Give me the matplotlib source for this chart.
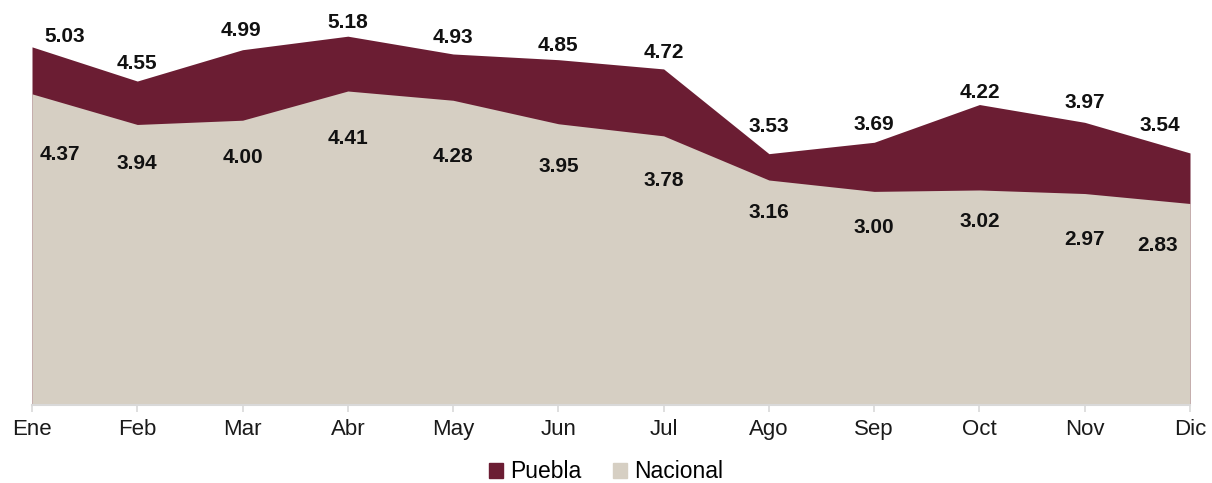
import numpy as np
import matplotlib.pyplot as plt
from matplotlib.patches import Patch

plt.rcParams['font.family'] = ['Liberation Sans', 'DejaVu Sans']

months = ['Ene', 'Feb', 'Mar', 'Abr', 'May', 'Jun', 'Jul', 'Ago', 'Sep', 'Oct', 'Nov', 'Dic']
puebla = [5.03, 4.55, 4.99, 5.18, 4.93, 4.85, 4.72, 3.53, 3.69, 4.22, 3.97, 3.54]
nacional = [4.37, 3.94, 4.00, 4.41, 4.28, 3.95, 3.78, 3.16, 3.00, 3.02, 2.97, 2.83]

# label offsets in pixels (dx, dy) relative to each point
off_pue = [(33, 10), (0, 18), (-2, 19), (0, 14), (0, 16), (0, 14), (0, 16),
           (0, 27), (0, 18), (0, 12), (0, 20), (-30, 27)]
off_nac = [(28, -61), (0, -39), (0, -37), (0, -47), (0, -56), (0, -43), (0, -45),
           (0, -32), (0, -36), (0, -32), (0, -46), (-32, -42)]

c_pue = '#6B1D33'
c_nac = '#D6CFC3'

fig = plt.figure(figsize=(12.12, 4.83), dpi=100)
ax = fig.add_axes([32/1212, 1 - 405/483, (1190-32)/1212, 391.6/483])

x = np.arange(len(months))
ax.fill_between(x, 0, puebla, color=c_pue, lw=0)
ax.fill_between(x, 0, nacional, color=c_nac, lw=0)

for i in range(len(x)):
    ax.annotate(f'{puebla[i]:.2f}', (x[i], puebla[i]), xytext=(off_pue[i][0]*0.72, off_pue[i][1]*0.72),
                textcoords='offset points', ha='center', va='center',
                fontsize=15, fontweight='bold', color='#111111')
    ax.annotate(f'{nacional[i]:.2f}', (x[i], nacional[i]), xytext=(off_nac[i][0]*0.72, off_nac[i][1]*0.72),
                textcoords='offset points', ha='center', va='center',
                fontsize=15, fontweight='bold', color='#111111')

ax.set_xlim(0, len(x) - 1)
ax.set_ylim(0, 5.5)
ax.set_xticks(x)
ax.set_xticklabels(months, fontsize=16, color='#1a1a1a')
ax.set_yticks([])
for s in ['top', 'right', 'left']:
    ax.spines[s].set_visible(False)
ax.spines['bottom'].set_color('#d9d9d9')
ax.spines['bottom'].set_linewidth(1.5)
ax.tick_params(axis='x', length=5, width=1.2, color='#d9d9d9', pad=5)

handles = [Patch(color=c_pue, label='Puebla'), Patch(color=c_nac, label='Nacional')]
fig.legend(handles=handles, loc='center', bbox_to_anchor=(0.5, 1 - 472/483), ncol=2,
           frameon=False, fontsize=16.5, handlelength=0.6, handleheight=0.6,
           handletextpad=0.3, columnspacing=1.4)

fig.savefig('out.png', dpi=100)
